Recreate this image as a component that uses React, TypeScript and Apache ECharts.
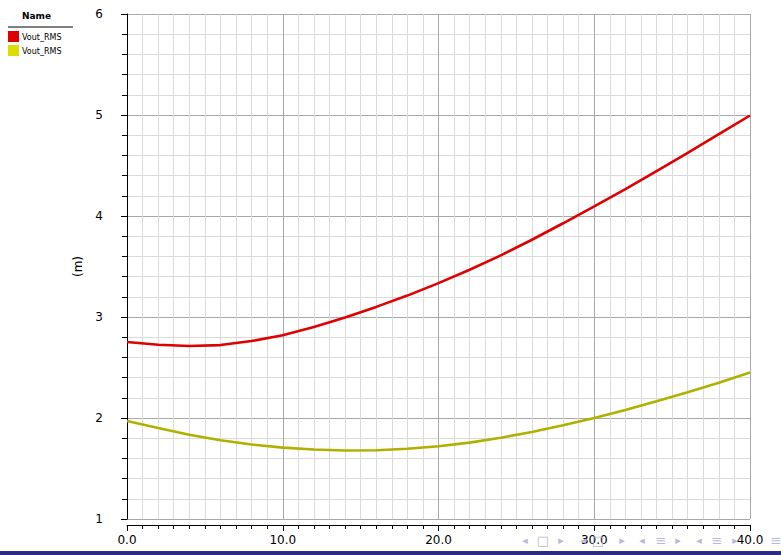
import React, { useEffect, useRef } from "react";
import * as echarts from "echarts";

const xValues = [0, 2, 4, 6, 8, 10, 12, 14, 16, 18, 20, 22, 24, 26, 28, 30, 32, 34, 36, 38, 40];
const redValues = [2.752, 2.726, 2.713, 2.722, 2.762, 2.82, 2.9, 2.995, 3.1, 3.212, 3.335, 3.468, 3.61, 3.765, 3.928, 4.095, 4.265, 4.445, 4.625, 4.81, 4.995];
const yellowValues = [1.97, 1.9, 1.835, 1.78, 1.737, 1.707, 1.688, 1.678, 1.68, 1.695, 1.72, 1.756, 1.805, 1.862, 1.928, 2.0, 2.08, 2.165, 2.254, 2.35, 2.45];
const seriesNames = ["Vout_RMS", "Vout_RMS"];
const seriesColors = ["#e00000", "#b0b000"];
const legendColors = ["#dd0000", "#dddd00"];
const legendTitle = "Name";
const xAxisName = "Cd (p)";
const yAxisName = "(m)";
const navSymbols = [
  { t: "◂", x: 525 }, { t: "□", x: 543 }, { t: "▸", x: 561 },
  { t: "◂", x: 583 }, { t: "□", x: 598 }, { t: "▸", x: 622 },
  { t: "◂", x: 642 }, { t: "≡", x: 661 }, { t: "▸", x: 678 },
  { t: "◂", x: 699 }, { t: "≡", x: 717 }, { t: "▸", x: 735 },
  { t: "≡", x: 776 },
];

export default function App() {
  const ref = useRef<HTMLDivElement>(null);
  useEffect(() => {
    document.body.style.margin = "0";
    const chart = echarts.init(ref.current!, null, { renderer: "svg" });
    const font = "DejaVu Sans";
    const mk = (vals: number[]) => xValues.map((x, i) => [x, vals[i]]);
    const graphics: any[] = [
      { type: "text", left: 22, top: 11, style: { text: legendTitle, font: `bold 9px "${font}"`, fill: "#000" } },
      { type: "line", shape: { x1: 8, y1: 27, x2: 73, y2: 27 }, style: { stroke: "#000", lineWidth: 1 } },
    ];
    seriesNames.forEach((n, i) => {
      const y = 31 + i * 14;
      graphics.push({ type: "rect", shape: { x: 8, y, width: 11, height: 11 }, style: { fill: legendColors[i] } });
      graphics.push({ type: "text", x: 22, y: y + 6, style: { text: n, font: `8px "${font}"`, fill: "#000", textVerticalAlign: "middle" } });
    });
    navSymbols.forEach((s) => {
      graphics.push({
        type: "text", x: s.x, y: 540, z: 10,
        style: { text: s.t, font: `${s.t === "□" || s.t === "≡" ? 13 : 11}px "${font}"`, fill: "#b8b8dc", textAlign: "center", textVerticalAlign: "middle" },
      });
    });
    graphics.push({ type: "rect", z: 20, shape: { x: 0, y: 551, width: 781, height: 4 }, style: { fill: "#2b2b86" } });

    chart.setOption({
      animation: false,
      grid: { left: 127, top: 14, right: 31, bottom: 36, containLabel: false, outerBoundsMode: "none" },
      xAxis: {
        type: "value", min: 0, max: 40, interval: 10, offset: 6,
        name: xAxisName, nameLocation: "middle", nameGap: 23,
        nameTextStyle: { fontFamily: font, fontSize: 12, color: "#000" },
        axisLine: { show: true, lineStyle: { color: "#000", width: 1 } },
        axisTick: { show: true, length: 6, lineStyle: { color: "#000" } },
        minorTick: { show: true, splitNumber: 10, length: 4, lineStyle: { color: "#000" } },
        axisLabel: { margin: 9, fontFamily: font, fontSize: 12, color: "#000", formatter: (v: number) => v.toFixed(1) },
        splitLine: { show: true, lineStyle: { color: "#a8a8a8", width: 1 } },
        minorSplitLine: { show: true, lineStyle: { color: "#dadada", width: 1 } },
      },
      yAxis: {
        type: "value", min: 1, max: 6, interval: 1, offset: 8,
        name: yAxisName, nameLocation: "middle", nameGap: 24, nameRotate: 90,
        nameTextStyle: { fontFamily: font, fontSize: 12, color: "#000" },
        axisLine: { show: true, lineStyle: { color: "#000", width: 1 } },
        axisTick: { show: true, length: 6, lineStyle: { color: "#000" } },
        minorTick: { show: true, splitNumber: 5, length: 5, lineStyle: { color: "#000" } },
        axisLabel: { margin: 16, fontFamily: font, fontSize: 12, color: "#000" },
        splitLine: { show: true, lineStyle: { color: "#a8a8a8", width: 1 } },
        minorSplitLine: { show: true, lineStyle: { color: "#dadada", width: 1 } },
      },
      series: [
        { type: "line", name: seriesNames[0], data: mk(redValues), showSymbol: false, lineStyle: { color: seriesColors[0], width: 2.6 }, itemStyle: { color: seriesColors[0] } },
        { type: "line", name: seriesNames[1], data: mk(yellowValues), showSymbol: false, lineStyle: { color: seriesColors[1], width: 2.6 }, itemStyle: { color: seriesColors[1] } },
      ],
      graphic: graphics,
    });
    return () => chart.dispose();
  }, []);
  return <div ref={ref} style={{ position: "absolute", left: 0, top: 0, width: 781, height: 555 }} />;
}
